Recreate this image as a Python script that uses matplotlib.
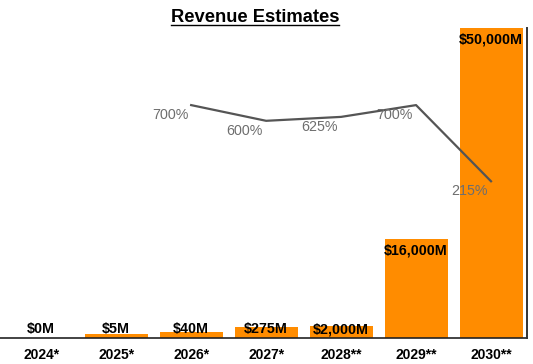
import matplotlib
matplotlib.use("Agg")
import matplotlib.pyplot as plt
from matplotlib.lines import Line2D

plt.rcParams['font.family'] = ['Liberation Sans', 'DejaVu Sans']

years = ['2024*', '2025*', '2026*', '2027*', '2028**', '2029**', '2030**']
revenue_m = [0, 5, 40, 275, 2000, 16000, 50000]
# heights as drawn in the picture (small bars are exaggerated so they stay visible)
bar_height = [0, 650, 950, 1750, 2000, 16000, 50000]
revenue_labels = ['$0M', '$5M', '$40M', '$275M', '$2,000M', '$16,000M', '$50,000M']
growth_years = [2, 3, 4, 5, 6]
growth_pct = [700, 600, 625, 700, 215]
growth_labels = ['700%', '600%', '625%', '700%', '215%']

fig = plt.figure(figsize=(5.33, 3.64), dpi=100)
ax = fig.add_axes([0, 26 / 364, 527 / 533, 310 / 364])

x = list(range(len(years)))
ax.bar(x, bar_height, width=0.84, color='#ff8c00')
ax.set_xlim(-0.55, 6.48)
ax.set_ylim(0, 50000)

for i, h in enumerate(bar_height):
    if h > 10000:
        ax.annotate(revenue_labels[i], (i, h), xytext=(0, -5), textcoords='offset pixels',
                    ha='center', va='top', fontsize=10.3, fontweight='bold')
    else:
        ax.annotate(revenue_labels[i], (i, 0), xytext=(0, 5), textcoords='offset pixels',
                    ha='center', va='baseline', fontsize=10.3, fontweight='bold')

ax.set_xticks(x)
ax.set_xticklabels(years, fontsize=10, fontweight='bold')
ax.tick_params(axis='x', length=0, pad=7)
ax.set_yticks([])
for s in ['left', 'top', 'right']:
    ax.spines[s].set_visible(False)
ax.spines['bottom'].set_linewidth(1.2)
ax.spines['bottom'].set_color('#222222')

ax2 = ax.twinx()
ax2.set_ylim(-783, 1191)
ax2.plot(growth_years, growth_pct, color='#555555', linewidth=1.6)
for xi, yi, lab in zip(growth_years, growth_pct, growth_labels):
    ax2.annotate(lab, (xi, yi), xytext=(-3, -10), textcoords='offset pixels',
                 ha='right', va='center', fontsize=10.3, color='#6e6e6e')
ax2.set_yticks([])
for s in ['left', 'top', 'bottom']:
    ax2.spines[s].set_visible(False)
ax2.spines['right'].set_linewidth(1.4)
ax2.spines['right'].set_color('#333333')

t = fig.text(255 / 533, 1 - 17 / 364, 'Revenue Estimates', ha='center', va='center',
             fontsize=13.2, fontweight='bold')
fig.canvas.draw()
bb = t.get_window_extent().transformed(fig.transFigure.inverted())
fig.add_artist(Line2D([bb.x0, bb.x1], [bb.y0 + 0.002, bb.y0 + 0.002],
                      transform=fig.transFigure, color='black', linewidth=1.0))

plt.savefig('out.png', dpi=100)
